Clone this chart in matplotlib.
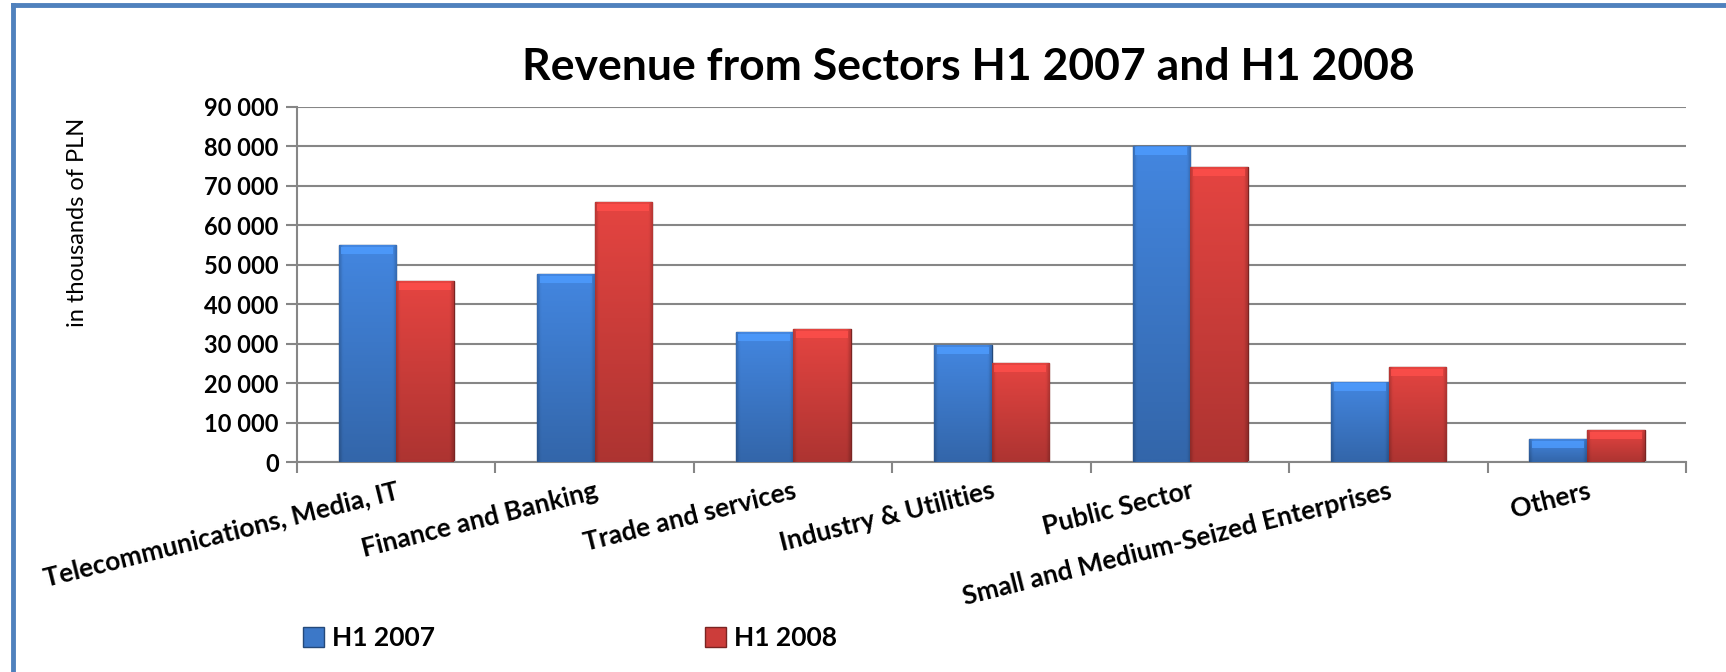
import matplotlib
matplotlib.use("Agg")
import matplotlib.pyplot as plt
import numpy as np
from matplotlib.patches import Patch, Rectangle
from matplotlib.lines import Line2D
from matplotlib.colors import to_rgb

# data
sectors = ['Telecommunications, Media, IT', 'Finance and Banking', 'Trade and services',
           'Industry & Utilities', 'Public Sector', 'Small and Medium-Seized Enterprises', 'Others']
h1_2007 = [55000, 47600, 33000, 29600, 80200, 20400, 5900]
h1_2008 = [45900, 65900, 33600, 25000, 74800, 24100, 8000]
series_names = ['H1 2007', 'H1 2008']
yticks = list(range(0, 90001, 10000))

plt.rcParams['font.family'] = ['Lato', 'DejaVu Sans']

blue = '#3c78c8'
red = '#cc3d3a'


def shade_bar(ax, bar, color, bevel):
    # fake the excel bevel: vertical gradient, darker sides, light top band
    x0, y0 = bar.get_x(), bar.get_y()
    w, h = bar.get_width(), bar.get_height()
    base = np.array(to_rgb(color))
    ny, nx = 60, 40
    v = np.linspace(1.12, 0.85, ny)[:, None]
    u = np.linspace(0, 1, nx)[None, :]
    side = 1 - 0.18 * (np.clip(1 - u / 0.06, 0, 1) + np.clip((u - 0.94) / 0.06, 0, 1))
    img = np.clip(base[None, None, :] * (v * side)[:, :, None], 0, 1)
    im = ax.imshow(img, extent=[x0, x0 + w, y0, y0 + h], aspect='auto',
                   origin='upper', zorder=3, interpolation='bilinear')
    im.set_clip_path(bar)
    top = Rectangle((x0 + w * 0.05, y0 + h - bevel), w * 0.9, bevel * 0.8,
                    color=np.clip(base * 1.3, 0, 1), zorder=4, lw=0, alpha=0.8)
    ax.add_patch(top)
    top.set_clip_path(bar)


fig = plt.figure(figsize=(17.26, 6.72), dpi=100)
ax = fig.add_axes([0.172, 0.3125, 0.805, 0.5283])

x = np.arange(len(sectors))
w = 0.29
b1 = ax.bar(x - w / 2, h1_2007, w, color=blue, edgecolor='#24497a', lw=1, zorder=2)
b2 = ax.bar(x + w / 2, h1_2008, w, color=red, edgecolor='#7a2422', lw=1, zorder=2)

ax.set_ylim(0, 90000)
ax.set_xlim(-0.5, len(sectors) - 0.5)
bevel = 90000 * 9 / 355
for bars, c in [(b1, blue), (b2, red)]:
    for b in bars:
        shade_bar(ax, b, c, bevel)

ax.set_yticks(yticks)
ax.set_yticklabels([f'{v:,}'.replace(',', ' ') for v in yticks],
                   fontsize=17, fontweight='bold')
ax.yaxis.grid(True, color='#868686', lw=1.5)
ax.set_axisbelow(True)
ax.tick_params(axis='y', length=8, width=1.5, color='#868686', pad=5)

ax.set_xticks(np.arange(-0.5, len(sectors), 1.0))
ax.set_xticklabels([])
ax.tick_params(axis='x', which='major', length=8, width=1.5, color='#868686')
ax.set_xticks(x, minor=True)
ax.set_xticklabels(sectors, minor=True, rotation=14, ha='right', va='top',
                   rotation_mode='anchor', fontsize=19, fontweight='bold')
ax.tick_params(axis='x', which='minor', length=0, pad=12)

for s in ['top', 'right']:
    ax.spines[s].set_visible(False)
for s in ['left', 'bottom']:
    ax.spines[s].set_color('#868686')
    ax.spines[s].set_linewidth(1.5)

ax.set_ylabel('in thousands of PLN', fontsize=17)
ax.yaxis.set_label_coords(-0.15, 0.675)
fig.suptitle('Revenue from Sectors H1 2007 and H1 2008', x=0.561, y=0.93,
             fontsize=32, fontweight='bold')

handles = [Patch(facecolor=blue, edgecolor='#24497a'),
           Patch(facecolor=red, edgecolor='#7a2422')]
fig.legend(handles, series_names, loc='center left', bbox_to_anchor=(0.162, 0.05),
           ncol=2, frameon=False, handlelength=0.8, handleheight=0.8,
           handletextpad=0.3, columnspacing=10.2, prop={'weight': 'bold', 'size': 19})

# blue frame, top and left edges only
fig.add_artist(Line2D([0.0075, 1.0], [0.992, 0.992], color='#4f81bd', lw=3.5))
fig.add_artist(Line2D([0.0075, 0.0075], [0.0, 0.992], color='#4f81bd', lw=3.5))

fig.savefig('out.png', dpi=100)
